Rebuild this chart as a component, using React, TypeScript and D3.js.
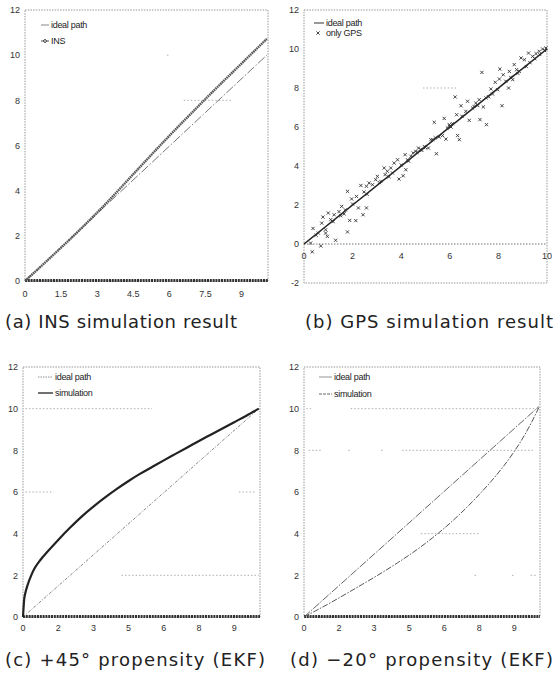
import React from "react";
import * as d3 from "d3";

// ---------- data ----------
const insX = [0, 1, 2, 2.5, 3, 3.5, 4, 4.5, 5, 5.5, 6, 6.5, 7, 7.5, 8, 8.5, 9, 9.5, 10.05];
const insY = [0, 0.98, 1.98, 2.5, 3.03, 3.58, 4.15, 4.73, 5.3, 5.87, 6.43, 6.98, 7.52, 8.06, 8.59, 9.11, 9.63, 10.15, 10.72];

const idealAX = [0, 10.05];
const idealAY = [0, 10.0];

const idealBX = [0, 10];
const idealBY = [0, 10];

const gpsX = [0.27, 0.34, 0.69, 0.37, 0.59, 0.78, 0.73, 0.89, 0.96, 0.89, 1.0, 1.1, 1.3, 1.24, 1.44, 1.55, 1.51, 1.65, 1.79, 1.79, 1.88, 1.96, 2.13, 2.16, 2.24, 2.34, 2.43, 2.47, 2.57, 2.57, 2.68, 2.82, 2.95, 3.02, 3.16, 3.3, 3.34, 3.43, 3.57, 3.64, 3.71, 3.85, 3.91, 4.08, 4.19, 4.16, 4.26, 4.4, 4.49, 4.6, 4.71, 4.95, 5.12, 5.22, 5.36, 5.45, 5.56, 5.7, 5.77, 5.84, 5.98, 6.11, 6.22, 6.32, 6.39, 6.28, 6.46, 6.66, 6.73, 6.8, 6.94, 7.07, 7.21, 7.24, 7.32, 7.38, 7.49, 7.51, 7.69, 7.76, 7.87, 7.97, 8.04, 8.15, 8.06, 8.2, 8.42, 8.45, 8.59, 8.65, 8.75, 8.86, 8.93, 9.07, 9.24, 9.41, 9.55, 9.68, 9.82, 9.96, 0.5, 1.2, 1.7, 2.0, 2.6, 3.1, 3.5, 4.0, 4.3, 4.8, 5.0, 5.4, 5.9, 6.05, 6.5, 7.0, 7.6, 8.3, 8.8, 9.3, 9.5, 9.7, 9.9, 4.65, 4.85, 5.3, 6.0, 7.15, 8.5, 9.15];
const gpsY = [0.05, -0.4, -0.1, 0.8, 0.56, 1.38, 1.07, 0.56, 0.39, 0.73, 1.59, 1.25, 0.19, 1.5, 1.66, 1.93, 1.45, 1.54, 0.62, 2.7, 1.21, 2.31, 1.2, 2.44, 1.85, 3.0, 1.5, 2.67, 1.85, 2.96, 3.13, 3.04, 3.3, 3.47, 3.21, 3.9, 3.56, 3.73, 3.9, 3.64, 4.15, 4.32, 3.33, 3.5, 3.81, 4.58, 4.32, 4.5, 4.67, 4.75, 4.92, 5.0, 4.92, 5.35, 6.24, 4.63, 5.49, 5.56, 6.44, 5.38, 6.12, 6.17, 7.54, 5.56, 5.35, 6.63, 7.09, 6.8, 7.32, 6.34, 6.97, 7.23, 7.4, 6.38, 8.8, 7.03, 7.49, 6.12, 7.95, 7.69, 8.29, 7.91, 8.46, 7.09, 8.97, 8.68, 8.0, 8.85, 8.43, 9.2, 8.94, 8.85, 9.54, 9.45, 9.79, 9.62, 9.76, 9.88, 10.0, 10.05, 0.45, 1.15, 1.75, 2.05, 2.55, 3.15, 3.45, 4.05, 4.25, 4.85, 4.95, 5.45, 5.95, 6.0, 6.55, 7.05, 7.55, 8.35, 8.75, 9.3, 9.5, 9.72, 9.92, 4.7, 4.8, 5.35, 6.05, 7.1, 8.55, 9.1];

const simCX = [0, 0.05, 0.1, 0.2, 0.35, 0.5, 0.75, 1, 1.5, 2, 2.5, 3, 3.5, 4, 4.5, 5, 5.5, 6, 6.5, 7, 7.5, 8, 8.5, 9, 9.5, 10.05];
const simCY = [0, 0.85, 1.15, 1.55, 2.0, 2.35, 2.75, 3.08, 3.7, 4.28, 4.82, 5.3, 5.74, 6.15, 6.53, 6.88, 7.2, 7.52, 7.83, 8.14, 8.45, 8.75, 9.05, 9.35, 9.65, 10.0];

const simDX = [0, 0.5, 1, 1.5, 2, 2.5, 3, 3.5, 4, 4.5, 5, 5.5, 6, 6.5, 7, 7.5, 8, 8.5, 9, 9.5, 10.05];
const simDY = [0, 0.3, 0.6, 0.92, 1.24, 1.57, 1.9, 2.24, 2.6, 2.97, 3.37, 3.8, 4.26, 4.76, 5.3, 5.88, 6.5, 7.18, 7.95, 8.85, 10.05];

const idealCDX = [0, 10.05];
const idealCY = [0, 10.0];
const idealDY = [0, 10.1];

const yTicksA = [0, 2, 4, 6, 8, 10, 12];
const yTicksB = [-2, 0, 2, 4, 6, 8, 10, 12];
const xTicksA = [0, 1.5, 3, 4.5, 6, 7.5, 9];
const xLabelsA = ["0", "1.5", "3", "4.5", "6", "7.5", "9"];
const xTicksB = [0, 2, 4, 6, 8, 10];
const xLabelsCD = ["0", "2", "3", "5", "6", "8", "9"];

// faint gridline fragments [y, x0, x1]
const gridA = [[8, 6.6, 8.6], [10, 5.9, 6.0]];
const gridB = [[8, 4.9, 6.3]];
const gridC = [[10, 0.1, 5.5], [6, 0.1, 1.3], [6, 9.2, 9.9], [2, 4.2, 10.05]];
const gridD = [[10, 0.1, 0.3], [10, 2.0, 10.0], [8, 0.2, 0.8], [8, 1.9, 2.0], [8, 3.3, 3.4], [8, 4.2, 9.8], [4, 5.0, 7.5], [2, 7.3, 7.4], [2, 8.9, 9.0], [2, 9.7, 10.0]];

const W = 558;
const H = 681;
const tickFont = "'Liberation Sans', Arial, sans-serif";
const legFont = "'Liberation Sans Narrow', 'Liberation Sans', Arial, sans-serif";
const capFont = "'DejaVu Sans', sans-serif";

function zip(xs: number[], ys: number[]): [number, number][] {
  return xs.map((x, i) => [x, ys[i]] as [number, number]);
}

type Box = { l: number; r: number; t: number; b: number; xd: [number, number]; yd: [number, number] };

function Frame({ box, x, y, yTicks, xTicks, xLabels, xLabelY, grid }: any) {
  return (
    <g>
      {grid.map((g: number[], i: number) => (
        <line key={"g" + i} x1={x(g[1])} x2={x(g[2])} y1={y(g[0])} y2={y(g[0])} stroke="#9a9a9a" strokeWidth={0.8} strokeDasharray="1.5 2" />
      ))}
      <rect x={box.l} y={box.t} width={box.r - box.l} height={box.b - box.t} fill="none" stroke="#8a8a8a" strokeWidth={0.9} strokeDasharray="1.5 1.2" />
      {yTicks.map((t: number) => (
        <text key={"y" + t} x={box.l - 5} y={y(t) + 3.2} textAnchor="end" fontFamily={tickFont} fontSize={9} fill="#333">
          {t}
        </text>
      ))}
      {xTicks.map((t: number, i: number) => (
        <text key={"x" + t} x={x(t)} y={xLabelY} textAnchor="middle" fontFamily={tickFont} fontSize={9} fill="#333">
          {xLabels[i]}
        </text>
      ))}
    </g>
  );
}

function Baseline({ x, y, x1 }: any) {
  return (
    <line x1={x(0)} x2={x(x1)} y1={y(0) - 0.5} y2={y(0) - 0.5} stroke="#333" strokeWidth={2.8} strokeDasharray="2 0.8" />
  );
}

function xMark(cx: number, cy: number, s: number) {
  return `M${cx - s},${cy - s}L${cx + s},${cy + s}M${cx + s},${cy - s}L${cx - s},${cy + s}`;
}

export default function App() {
  const A: Box = { l: 25, r: 268, t: 10, b: 281, xd: [0, 10.1], yd: [0, 12] };
  const B: Box = { l: 304, r: 547, t: 10, b: 283, xd: [0, 10], yd: [-2, 12] };
  const C: Box = { l: 23, r: 260, t: 367, b: 617, xd: [0, 10.1], yd: [0, 12] };
  const D: Box = { l: 304, r: 540, t: 367, b: 617, xd: [0, 10.1], yd: [0, 12] };

  const sc = (bx: Box) => ({
    x: d3.scaleLinear().domain(bx.xd).range([bx.l, bx.r]),
    y: d3.scaleLinear().domain(bx.yd).range([bx.b, bx.t]),
  });
  const a = sc(A), b = sc(B), c = sc(C), d = sc(D);
  const lineOf = (s: any) => d3.line<[number, number]>().x((p) => s.x(p[0])).y((p) => s.y(p[1]));
  const curveOf = (s: any) => d3.line<[number, number]>().x((p) => s.x(p[0])).y((p) => s.y(p[1])).curve(d3.curveMonotoneX);

  const legend = (x0: number, yRow: number, len: number, label: string, style: any, marker?: string) => (
    <g>
      <line x1={x0} x2={x0 + len} y1={yRow} y2={yRow} {...style} />
      {marker === "diamond" && (
        <path d={`M${x0 + len / 2},${yRow - 2}L${x0 + len / 2 + 2},${yRow}L${x0 + len / 2},${yRow + 2}L${x0 + len / 2 - 2},${yRow}Z`} fill="none" stroke="#444" strokeWidth={0.8} />
      )}
      <text x={x0 + len + 2} y={yRow + 3} fontFamily={legFont} fontSize={9} fill="#222" letterSpacing={-0.3}>
        {label}
      </text>
    </g>
  );

  return (
    <svg width={W} height={H} style={{ position: "absolute", left: 0, top: 0, background: "#fff" }}>
      <rect x={0} y={0} width={W} height={H} fill="#fff" />

      {/* (a) */}
      <Frame box={A} x={a.x} y={a.y} yTicks={yTicksA} xTicks={xTicksA} xLabels={xLabelsA} xLabelY={A.b + 16} grid={gridA} />
      <Baseline x={a.x} y={a.y} x1={10.1} />
      <path d={lineOf(a)(zip(idealAX, idealAY)) || ""} fill="none" stroke="#666" strokeWidth={0.9} strokeDasharray="9 2 1.5 2" />
      <path d={curveOf(a)(zip(insX, insY)) || ""} fill="none" stroke="#555" strokeWidth={2.4} strokeDasharray="1.6 0.6" />
      {legend(41, 25, 8, "ideal path", { stroke: "#888", strokeWidth: 1 })}
      {legend(41, 41, 8, "INS", { stroke: "#555", strokeWidth: 1 }, "diamond")}

      {/* (b) */}
      <Frame box={B} x={b.x} y={b.y} yTicks={yTicksB} xTicks={xTicksB} xLabels={xTicksB.map(String)} xLabelY={b.y(0) + 15} grid={gridB} />
      <line x1={B.l} x2={B.r} y1={b.y(0)} y2={b.y(0)} stroke="#666" strokeWidth={0.9} strokeDasharray="1.5 1.5" />
      <path d={lineOf(b)(zip(idealBX, idealBY)) || ""} fill="none" stroke="#222" strokeWidth={1.6} />
      <path d={zip(gpsX, gpsY).map((p) => xMark(b.x(p[0]), b.y(p[1]), 1.6)).join("")} fill="none" stroke="#333" strokeWidth={0.9} />
      {legend(314, 23, 10, "ideal path", { stroke: "#333", strokeWidth: 1 })}
      <path d={xMark(318, 33, 1.6)} stroke="#333" strokeWidth={0.9} />
      <text x={326} y={36} fontFamily={legFont} fontSize={9} fill="#222" letterSpacing={-0.3}>only GPS</text>

      {/* (c) */}
      <Frame box={C} x={c.x} y={c.y} yTicks={yTicksA} xTicks={xTicksA} xLabels={xLabelsCD} xLabelY={C.b + 14} grid={gridC} />
      <Baseline x={c.x} y={c.y} x1={10.1} />
      <path d={lineOf(c)(zip(idealCDX, idealCY)) || ""} fill="none" stroke="#777" strokeWidth={0.9} strokeDasharray="3 1.5 1 1.5" />
      <path d={curveOf(c)(zip(simCX, simCY)) || ""} fill="none" stroke="#222" strokeWidth={2.2} />
      {legend(38, 377, 15, "ideal path", { stroke: "#888", strokeWidth: 0.9, strokeDasharray: "1.5 1" })}
      {legend(38, 393, 15, "simulation", { stroke: "#222", strokeWidth: 1.3 })}

      {/* (d) */}
      <Frame box={D} x={d.x} y={d.y} yTicks={yTicksA} xTicks={xTicksA} xLabels={xLabelsCD} xLabelY={D.b + 14} grid={gridD} />
      <Baseline x={d.x} y={d.y} x1={10.1} />
      <path d={lineOf(d)(zip(idealCDX, idealDY)) || ""} fill="none" stroke="#666" strokeWidth={1} strokeDasharray="8 1.5 1.5 1.5" />
      <path d={curveOf(d)(zip(simDX, simDY)) || ""} fill="none" stroke="#555" strokeWidth={1} strokeDasharray="6 1.5 1.5 1.5" />
      {legend(319, 377, 13, "ideal path", { stroke: "#888", strokeWidth: 0.9 })}
      {legend(319, 394, 13, "simulation", { stroke: "#555", strokeWidth: 0.9, strokeDasharray: "3 1" })}

      {/* captions */}
      <text x={5} y={328} fontFamily={capFont} fontSize={18} fill="#222" textLength={232} lengthAdjust="spacing">(a) INS simulation result</text>
      <text x={305} y={328} fontFamily={capFont} fontSize={18} fill="#222" textLength={248} lengthAdjust="spacing">(b) GPS simulation result</text>
      <text x={5} y={666} fontFamily={capFont} fontSize={18} fill="#222" textLength={260} lengthAdjust="spacing">(c) +45° propensity (EKF)</text>
      <text x={290} y={666} fontFamily={capFont} fontSize={18} fill="#222" textLength={263} lengthAdjust="spacing">(d) −20° propensity (EKF)</text>
    </svg>
  );
}
